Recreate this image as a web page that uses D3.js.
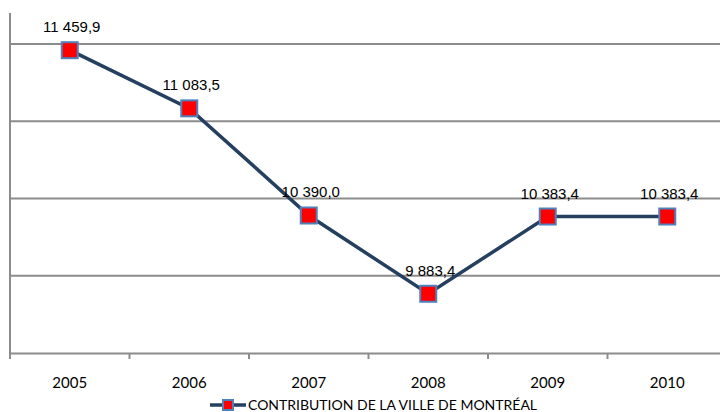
<!DOCTYPE html>
<html>
<head>
<meta charset="utf-8">
<script src="https://cdn.jsdelivr.net/npm/d3@7"></script>
<style>
  body { margin: 0; background: #fff; }
  svg { display: block; }
</style>
</head>
<body>
<script>
// chart data
const years = ["2005", "2006", "2007", "2008", "2009", "2010"];
const contribution = [11459.9, 11083.5, 10390.0, 9883.4, 10383.4, 10383.4];
const gridValues = [10000, 10500, 11000, 11500];
const seriesName = "CONTRIBUTION DE LA VILLE DE MONTRÉAL";

const w = 720, h = 412;
const svg = d3.select("body").append("svg")
    .attr("width", w)
    .attr("height", h);

const x = d3.scaleBand().domain(years).range([10, 727]);
const y = d3.scaleLinear().domain([9500, 11500]).range([353, 44]);

// gridlines
svg.selectAll("line.grid")
    .data(gridValues)
    .enter()
    .append("line")
    .attr("class", "grid")
    .attr("x1", 10)
    .attr("x2", w)
    .attr("y1", d => y(d))
    .attr("y2", d => y(d))
    .style("stroke", "#8c8c8c")
    .style("stroke-width", 2);

// left axis line
svg.append("line")
    .attr("x1", 10).attr("x2", 10)
    .attr("y1", 13).attr("y2", y(9500))
    .style("stroke", "#8c8c8c")
    .style("stroke-width", 2);

// bottom axis
const xAxis = svg.append("g")
    .attr("transform", "translate(0," + y(9500) + ")")
    .call(d3.axisBottom(x).tickSize(0).tickPadding(24));
xAxis.select(".domain").style("stroke", "#8c8c8c").style("stroke-width", 2);
xAxis.selectAll("text")
    .style("font-family", "Lato, 'Open Sans', sans-serif")
    .style("font-size", "15px")
    .style("fill", "#000");

// tick marks between categories
svg.selectAll("line.tick2")
    .data(years)
    .enter()
    .append("line")
    .attr("class", "tick2")
    .attr("x1", d => x(d))
    .attr("x2", d => x(d))
    .attr("y1", y(9500))
    .attr("y2", y(9500) + 6)
    .style("stroke", "#8c8c8c")
    .style("stroke-width", 2);

const cx = (d, i) => x(years[i]) + x.bandwidth() / 2;

// line
const line = d3.line()
    .x((d, i) => cx(d, i))
    .y(d => y(d));
svg.append("path")
    .datum(contribution)
    .attr("d", line)
    .style("fill", "none")
    .style("stroke", "#243f60")
    .style("stroke-width", 3.5);

// markers
svg.selectAll("rect.marker")
    .data(contribution)
    .enter()
    .append("rect")
    .attr("class", "marker")
    .attr("x", (d, i) => cx(d, i) - 8)
    .attr("y", d => y(d) - 8)
    .attr("width", 16)
    .attr("height", 16)
    .style("fill", "#ff0000")
    .style("stroke", "#4f81bd")
    .style("stroke-width", 2);

// value labels
const fmt = v => {
    const s = v.toFixed(1).replace(".", ",");
    const parts = s.split(",");
    return parts[0].replace(/\B(?=(\d{3})+(?!\d))/g, " ") + "," + parts[1];
};
svg.selectAll("text.val")
    .data(contribution)
    .enter()
    .append("text")
    .attr("class", "val")
    .attr("x", (d, i) => cx(d, i) + 2)
    .attr("y", d => y(d) - 18)
    .attr("text-anchor", "middle")
    .style("font-family", "'Liberation Sans', Arial, sans-serif")
    .style("font-size", "15px")
    .text(d => fmt(d));

// legend
const legend = svg.append("g").attr("id", "legend");
legend.append("line")
    .attr("x1", 210).attr("x2", 246)
    .attr("y1", 405).attr("y2", 405)
    .style("stroke", "#243f60")
    .style("stroke-width", 3.5);
legend.append("rect")
    .attr("x", 223).attr("y", 400)
    .attr("width", 10).attr("height", 10)
    .style("fill", "#ff0000")
    .style("stroke", "#4f81bd")
    .style("stroke-width", 2);
legend.append("text")
    .attr("x", 248)
    .attr("y", 410)
    .style("font-family", "Lato, 'Open Sans', sans-serif")
    .style("font-size", "14px")
    .text(seriesName);
</script>
</body>
</html>
